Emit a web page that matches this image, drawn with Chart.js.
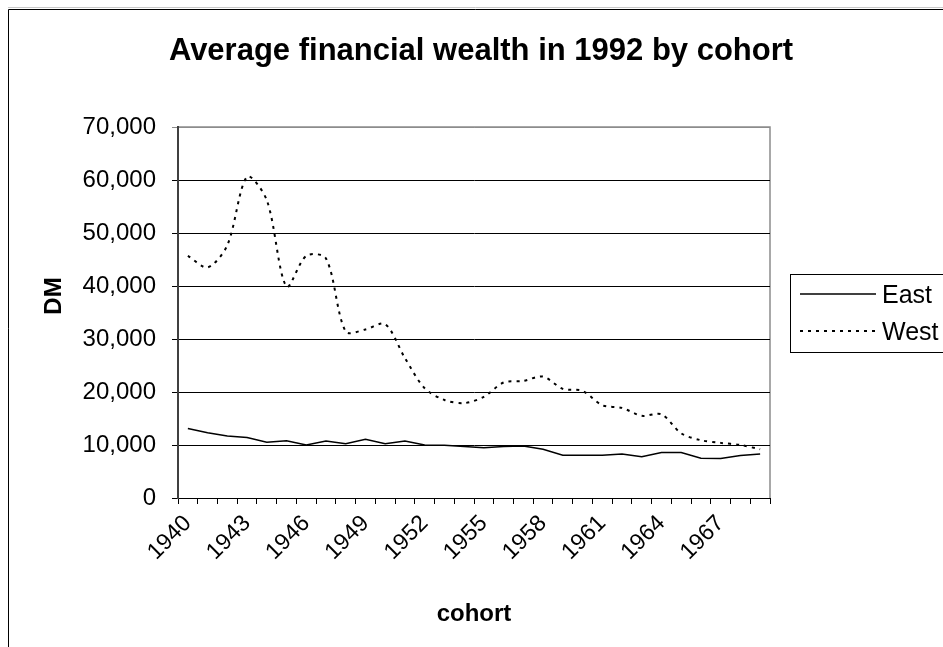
<!DOCTYPE html>
<html>
<head>
<meta charset="utf-8">
<script src="https://cdn.jsdelivr.net/npm/chart.js@4.4.1/dist/chart.umd.min.js"></script>
<style>
  html, body { margin: 0; padding: 0; background: #fff; }
  #c { display: block; }
</style>
</head>
<body>
<canvas id="c" width="943" height="647" style="width:943px;height:647px"></canvas>
<script>
const cohorts = ['1940','1941','1942','1943','1944','1945','1946','1947','1948','1949',
                 '1950','1951','1952','1953','1954','1955','1956','1957','1958','1959',
                 '1960','1961','1962','1963','1964','1965','1966','1967','1968','1969'];
const eastValues = [13100,12300,11700,11400,10500,10800,10000,10750,10250,11100,
                    10250,10750,10000,9950,9700,9500,9700,9800,9200,8050,
                    8050,8050,8300,7800,8600,8600,7500,7450,8000,8300];
const westValues = [45700,43500,47700,60600,56200,39900,45700,45200,31400,31800,
                    32800,26400,20700,18500,17900,19100,21800,22100,22900,20600,
                    20200,17500,17000,15500,15800,12200,10900,10400,10000,9200];
const xTickLabels = ['1940','1943','1946','1949','1952','1955','1958','1961','1964','1967'];
const yTickValues = [0,10000,20000,30000,40000,50000,60000,70000];
const chartTitle = 'Average financial wealth in 1992 by cohort';
const xTitle = 'cohort';
const yTitle = 'DM';

const FONT = "'Liberation Sans', Arial, sans-serif";

const decorPlugin = {
  id: 'decor',
  beforeDraw(chart) {
    const ctx = chart.ctx;
    const a = chart.chartArea;
    ctx.save();
    ctx.fillStyle = '#fff';
    ctx.fillRect(0, 0, chart.width, chart.height);
    // outer frame
    ctx.strokeStyle = '#c8c8c8';
    ctx.lineWidth = 1;
    ctx.beginPath(); ctx.moveTo(8, 7.5); ctx.lineTo(chart.width, 7.5); ctx.stroke();
    ctx.strokeStyle = '#000';
    ctx.beginPath();
    ctx.moveTo(8.5, chart.height); ctx.lineTo(8.5, 9.5); ctx.lineTo(chart.width, 9.5);
    ctx.stroke();
    // plot border (top/right) gray
    ctx.strokeStyle = '#8c8c8c';
    ctx.lineWidth = 1.5;
    ctx.beginPath();
    ctx.moveTo(a.left, a.top); ctx.lineTo(a.right, a.top); ctx.lineTo(a.right, a.bottom);
    ctx.stroke();
    ctx.restore();
  },
  afterDraw(chart) {
    const ctx = chart.ctx;
    const a = chart.chartArea;
    ctx.save();
    ctx.fillStyle = '#000';
    // title
    ctx.font = "bold 31px " + FONT;
    ctx.textAlign = 'center';
    ctx.textBaseline = 'alphabetic';
    ctx.fillText(chartTitle, 481, 60);
    // x axis title
    ctx.font = "bold 24px " + FONT;
    ctx.fillText(xTitle, (a.left + a.right) / 2, 621);
    // y axis title
    ctx.save();
    ctx.font = "bold 24px " + FONT;
    ctx.translate(54, 296);
    ctx.rotate(-Math.PI / 2);
    ctx.textBaseline = 'middle';
    ctx.fillText(yTitle, 0, 0);
    ctx.restore();
    // legend
    const lx = 790.5, ly = 274.5;
    ctx.strokeStyle = '#000';
    ctx.lineWidth = 1;
    ctx.strokeRect(lx, ly, 300, 78);
    const items = chart.data.datasets;
    const rows = [296, 333];
    items.forEach((ds, i) => {
      const y = rows[i];
      ctx.save();
      ctx.strokeStyle = ds.borderColor;
      ctx.lineWidth = ds.borderWidth;
      ctx.setLineDash(ds.borderDash || []);
      ctx.beginPath(); ctx.moveTo(800, y - 2); ctx.lineTo(876, y - 2); ctx.stroke();
      ctx.restore();
      ctx.font = "25px " + FONT;
      ctx.textAlign = 'left';
      ctx.textBaseline = 'middle';
      ctx.fillStyle = '#000';
      ctx.fillText(ds.label, 882, y);
    });
    ctx.restore();
  }
};

new Chart(document.getElementById('c'), {
  type: 'line',
  data: {
    labels: cohorts,
    datasets: [
      { label: 'East', data: eastValues, borderColor: '#000', borderWidth: 1.5,
        pointRadius: 0, tension: 0, fill: false },
      { label: 'West', data: westValues, borderColor: '#000', borderWidth: 2,
        borderDash: [3, 5], pointRadius: 0, tension: 0.3, fill: false }
    ]
  },
  plugins: [decorPlugin],
  options: {
    responsive: false,
    animation: false,
    devicePixelRatio: 1,
    layout: { padding: { left: 0, right: 173, top: 127, bottom: 0 } },
    plugins: { legend: { display: false }, title: { display: false }, tooltip: { enabled: false } },
    scales: {
      x: {
        type: 'category',
        offset: true,
        afterFit(s) { s.height = 149; },
        grid: { display: true, offset: true, drawOnChartArea: false, color: '#000',
                tickLength: 6, lineWidth: 1 },
        border: { display: true, color: '#000', width: 1 },
        ticks: {
          autoSkip: false, maxRotation: 45, minRotation: 45, padding: 6, color: '#000',
          font: { family: FONT, size: 23 },
          callback(v, i) { const l = cohorts[i]; return xTickLabels.includes(l) ? l : ''; }
        }
      },
      y: {
        min: 0, max: 70000,
        afterFit(s) { s.width = 178; },
        afterBuildTicks(s) { s.ticks = yTickValues.map(v => ({ value: v })); },
        grid: { display: true, drawOnChartArea: true, tickLength: 6, lineWidth: 1,
                color: c => (c.tick && c.tick.value === 70000) ? '#8c8c8c' : '#000' },
        border: { display: true, color: '#404040', width: 2 },
        ticks: {
          padding: 16, color: '#000',
          font: { family: FONT, size: 24 },
          callback: v => v.toLocaleString('en-US')
        }
      }
    }
  }
});
</script>
</body>
</html>
